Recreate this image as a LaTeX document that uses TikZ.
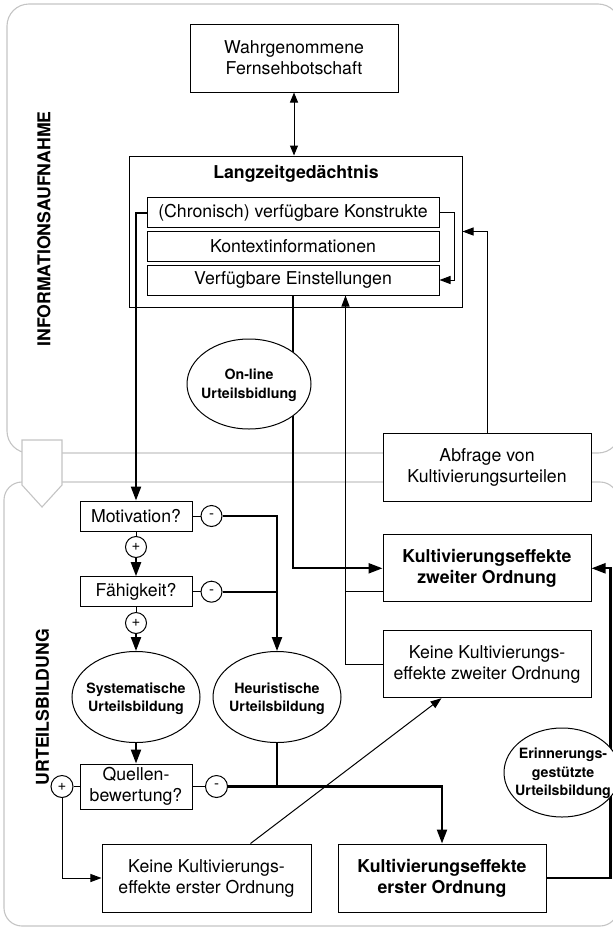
\documentclass[tikz,border=0pt]{standalone}
\usepackage{fontspec}
\setmainfont{TeX Gyre Heros}
\usetikzlibrary{arrows.meta,shapes.geometric}
\pgfdeclarelayer{back}
\pgfdeclarelayer{mid}
\pgfsetlayers{back,mid,main}
\definecolor{panelgray}{HTML}{C4C4C4}
\begin{document}
\begin{tikzpicture}[x=1bp,y=-1bp,
  box/.style={draw, line width=1bp, fill=white, inner sep=0pt, align=center,
    font=\fontsize{17.7bp}{21bp}\selectfont},
  bbox/.style={box, font=\bfseries\fontsize{17.7bp}{21bp}\selectfont},
  ell/.style={draw, ellipse, line width=1bp, fill=white, inner sep=0pt},
  elltxt/.style={align=center, inner sep=0pt, font=\bfseries\fontsize{14.2bp}{18.5bp}\selectfont},
  sgn/.style={draw, circle, line width=1bp, fill=white, inner sep=0pt, minimum size=21bp,
    font=\fontsize{15bp}{15bp}\selectfont},
  vlab/.style={rotate=90, inner sep=0pt, font=\bfseries\fontsize{17.7bp}{21bp}\selectfont},
  panel/.style={draw=panelgray, line width=1.1bp},
  thinc/.style={line width=1bp},
  thickc/.style={line width=2.2bp},
  athin/.style={-{Triangle[length=11bp,width=8bp]}},
  athick/.style={-{Triangle[length=14bp,width=10bp]}}
]
\useasboundingbox (0,0) rectangle (613,929);

% panels
\begin{pgfonlayer}{back}
  \draw[panel, rounded corners=22bp] (7,4) rectangle (620,453);
  \draw[panel, rounded corners=18bp] (4,482) rectangle (618,926);
  \draw[panel, fill=white] (22,440) -- (62,440) -- (62,485) -- (42,507) -- (22,485) -- cycle;
\end{pgfonlayer}

% labels
\node[vlab] (labI) at (44,229) {INFORMATIONSAUFNAHME};
\node[vlab] (labU) at (42.5,707) {URTEILSBILDUNG};

% nodes
\node[box, minimum width=208bp, minimum height=68bp] (wahr) at (294,58) {Wahrgenommene\\Fernsehbotschaft};
\node[draw, line width=1bp, minimum width=332bp, minimum height=151bp, inner sep=0pt] (ltm) at (296,231.5) {};
\node[inner sep=0pt, font=\bfseries\fontsize{17.7bp}{21bp}\selectfont] (ltmT) at (296,174) {Langzeitgedächtnis};
\node[box, minimum width=292bp, minimum height=30bp] (k1) at (293,212.8) {(Chronisch) verfügbare Konstrukte};
\node[box, minimum width=292bp, minimum height=30bp] (k2) at (293,246) {Kontextinformationen};
\node[box, minimum width=292bp, minimum height=30bp] (k3) at (293,280) {Verfügbare Einstellungen};

\node[ell, minimum width=124bp, minimum height=90bp] (onl) at (249,384) {};
\node[elltxt] (onlT) at (249,385.5) {On-line\\Urteilsbidlung};

\node[box, minimum width=208bp, minimum height=68bp] (abf) at (487,467) {Abfrage von\\Kultivierungsurteilen};
\node[bbox, minimum width=208bp, minimum height=67bp] (kz) at (487,568.3) {Kultivierungseffekte\\zweiter Ordnung};
\node[box, minimum width=208bp, minimum height=67bp] (kkz) at (487,664.2) {Keine Kultivierungs-\\effekte zweiter Ordnung};

\node[box, minimum width=112bp, minimum height=30bp] (mot) at (136,516) {Motivation?};
\node[sgn] (m1) at (211.5,516) {-};
\node[sgn] (p1) at (136,547) {+};
\node[box, minimum width=112bp, minimum height=30bp] (fae) at (136,591.7) {Fähigkeit?};
\node[sgn] (m2) at (211.5,591.7) {-};
\node[sgn] (p2) at (136,623) {+};

\node[ell, minimum width=128bp, minimum height=91bp] (sys) at (136,697) {};
\node[elltxt] (sysT) at (136,698.5) {Systematische\\Urteilsbildung};
\node[ell, minimum width=128bp, minimum height=91bp] (heu) at (277,697) {};
\node[elltxt] (heuT) at (277,698.5) {Heuristische\\Urteilsbildung};

\node[box, minimum width=112bp, minimum height=45bp] (quel) at (136,786.5) {Quellen-\\bewertung?};
\node[sgn, minimum size=22bp] (m3) at (216.5,786.5) {-};
\node[sgn, minimum size=22bp] (p3) at (62,786.5) {+};

\node[box, minimum width=209bp, minimum height=68bp] (ke1) at (206.5,878) {Keine Kultivierungs-\\effekte erster Ordnung};
\node[bbox, minimum width=208bp, minimum height=68bp] (k1o) at (442,878) {Kultivierungseffekte\\erster Ordnung};

\node[ell, minimum width=116bp, minimum height=89bp] (erin) at (562,772.5) {};
\node[elltxt] (erinT) at (563,773.5) {Erinnerungs-\\gestützte\\Urteilsbildung};

% helper coordinates
\path (k3.south west) ++(199,0) coordinate (k3b);
\path (kz.south west) ++(0,-11.3) coordinate (kzb);
\path (ke1.north west) ++(149,0) coordinate (d1);
\path (kkz.south west) ++(59,0) coordinate (d2);

% connectors
\begin{pgfonlayer}{mid}
  \draw[thinc, {Triangle[length=10bp,width=8bp]}-{Triangle[length=10bp,width=8bp]}] (wahr.south) -- (wahr.south |- ltm.north);
  \draw[thickc, athick] (k1.west) -| (mot.north);
  \draw[thinc, athin] (k1.east) -- ++(15,0) |- (k3.east);
  \draw[thinc, athin] (abf.north) |- (ltm.east);
  \draw[thickc, athick] (k3.south) |- (kz.west);
  \draw[thinc, athin] (kkz.west) -| (k3b);
  \draw[thinc] (kzb) -- (kzb -| k3b);
  \draw[thinc] (mot.east) -- (m1.west);
  \draw[thickc, athick] (m1.east) -| (heu.north);
  \draw[thinc] (fae.east) -- (m2.west);
  \draw[thickc] (m2.east) -- (m2.east -| heu.north);
  \draw[thinc] (mot.south) -- (p1.north);
  \draw[thickc, athick] (p1.south) -- (fae.north);
  \draw[thinc] (fae.south) -- (p2.north);
  \draw[thickc, athick] (p2.south) -- (sys.north);
  \draw[thickc, athick] (sys.south) -- (quel.north);
  \draw[thinc] (quel.east) -- (m3.west);
  \draw[thickc, athick] (m3.east) -| (k1o.north);
  \draw[thickc] (heu.south) -- (heu.south |- m3.east);
  \draw[thinc] (quel.west) -- (p3.east);
  \draw[thinc, athin] (p3.south) |- (ke1.west);
  \draw[thinc, athin] (d1) -- (d2);
  \draw[thickc, athick] (k1o.east) -- ++(64,0) |- (kz.east);
\end{pgfonlayer}
\end{tikzpicture}
\end{document}
